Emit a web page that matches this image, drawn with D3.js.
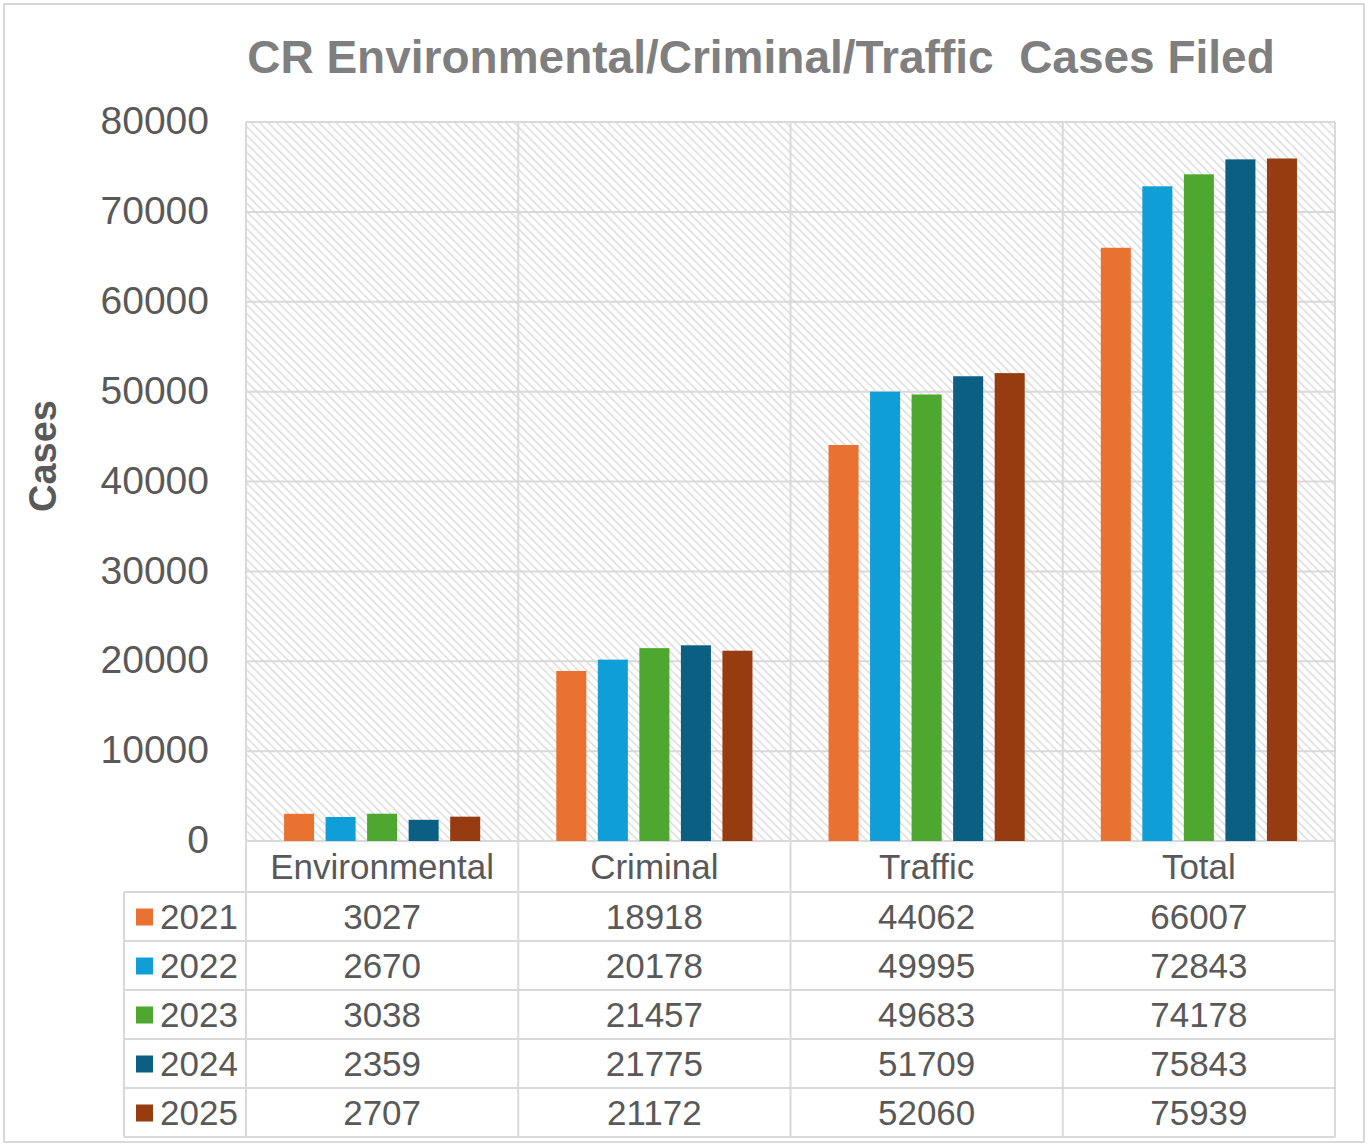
<!DOCTYPE html>
<html>
<head>
<meta charset="utf-8">
<style>
  body { margin: 0; background: #fff; }
  text { font-family: "Liberation Sans", Arial, sans-serif; }
</style>
</head>
<body>
<div id="chart"></div>
<script src="https://d3js.org/d3.v7.min.js"></script>
<script>
// data
const categories = ["Environmental", "Criminal", "Traffic", "Total"];
const years = ["2021", "2022", "2023", "2024", "2025"];
const colors = ["#e97132", "#0f9ed5", "#4ea72e", "#0b5f83", "#963c10"];
const values2021 = [3027, 18918, 44062, 66007];
const values2022 = [2670, 20178, 49995, 72843];
const values2023 = [3038, 21457, 49683, 74178];
const values2024 = [2359, 21775, 51709, 75843];
const values2025 = [2707, 21172, 52060, 75939];
const yTicks = [0, 10000, 20000, 30000, 40000, 50000, 60000, 70000, 80000];

const series = [values2021, values2022, values2023, values2024, values2025];

width = 1368;
height = 1146;
margin = ({top: 122, right: 33, bottom: 305, left: 246});
rowH = 49;
headerH = 51;
legendLeft = 124;
gridColor = "#d9d9d9";
textColor = "#595959";

svg = d3.select("#chart")
  .append("svg")
    .attr("width", width)
    .attr("height", height);

// diagonal hatch for the plot area (downward diagonal)
const defs = svg.append("defs");
const pat = defs.append("pattern")
    .attr("id", "hatch")
    .attr("patternUnits", "userSpaceOnUse")
    .attr("width", 6)
    .attr("height", 6)
    .attr("patternTransform", "rotate(-45)");
pat.append("rect").attr("width", 6).attr("height", 6).attr("fill", "#ffffff");
pat.append("line")
    .attr("x1", 0).attr("y1", 0).attr("x2", 0).attr("y2", 6)
    .attr("stroke", "#dcdcdc").attr("stroke-width", 3);

// outer frame
svg.append("rect")
    .attr("x", 4).attr("y", 4)
    .attr("width", width - 8).attr("height", height - 8)
    .attr("fill", "#fff")
    .attr("stroke", gridColor)
    .attr("stroke-width", 2);

x = d3.scaleBand()
    .domain(categories)
    .range([margin.left, width - margin.right]);

xInner = d3.scaleBand()
    .domain(years)
    .range([0, x.bandwidth()])
    .paddingInner(0.277)
    .paddingOuter(0.916);

plotBottom = height - margin.bottom;
y = d3.scaleLinear()
    .domain([0, 80000])
    .range([plotBottom, margin.top]);

// plot background
svg.append("rect")
    .attr("x", margin.left).attr("y", margin.top)
    .attr("width", x.range()[1] - margin.left)
    .attr("height", plotBottom - margin.top)
    .attr("fill", "url(#hatch)");

// horizontal gridlines
svg.append("g")
  .selectAll("line")
  .data(yTicks)
  .join("line")
    .attr("x1", margin.left).attr("x2", x.range()[1])
    .attr("y1", d => y(d)).attr("y2", d => y(d))
    .attr("stroke", gridColor)
    .attr("stroke-width", 2);

// vertical gridlines through plot and table
const vx = categories.map(c => x(c)).concat([x.range()[1]]);
svg.append("g")
  .selectAll("line")
  .data(vx)
  .join("line")
    .attr("x1", d => d).attr("x2", d => d)
    .attr("y1", margin.top).attr("y2", plotBottom + headerH + rowH * years.length)
    .attr("stroke", gridColor)
    .attr("stroke-width", 2);

// y axis labels
svg.append("g")
    .attr("transform", `translate(209,0)`)
    .call(d3.axisLeft(y).tickValues(yTicks).tickSize(0).tickPadding(0).tickFormat(d3.format("d")))
    .call(g => g.select(".domain").remove())
    .call(g => g.selectAll("text")
        .attr("fill", textColor)
        .attr("font-size", 39)
        .attr("dy", "0.3em")
        .attr("font-family", "'Liberation Sans', Arial, sans-serif"));

// axis title
svg.append("text")
    .attr("transform", `translate(56,456) rotate(-90)`)
    .attr("text-anchor", "middle")
    .attr("fill", textColor)
    .attr("font-size", 38)
    .attr("font-weight", "bold")
    .text("Cases");

// title
svg.append("text")
    .attr("x", 761).attr("y", 73)
    .attr("text-anchor", "middle")
    .attr("fill", "#7f7f7f")
    .attr("font-size", 46)
    .attr("font-weight", "bold")
    .attr("xml:space", "preserve")
    .text("CR Environmental/Criminal/Traffic  Cases Filed");

// bars
svg.append("g")
  .selectAll("g")
  .data(years)
  .join("g")
    .attr("fill", (d, i) => colors[i])
  .selectAll("rect")
  .data((d, i) => categories.map((c, j) => ({c, yr: d, v: series[i][j]})))
  .join("rect")
    .attr("x", d => x(d.c) + xInner(d.yr))
    .attr("y", d => y(d.v))
    .attr("width", xInner.bandwidth())
    .attr("height", d => y(0) - y(d.v));

// data table
const tableTop = plotBottom + headerH;
const tableRight = x.range()[1];
const hLines = d3.range(years.length + 1).map(i => tableTop + i * rowH);

svg.append("g")
  .selectAll("line")
  .data(hLines)
  .join("line")
    .attr("x1", legendLeft).attr("x2", tableRight)
    .attr("y1", d => d).attr("y2", d => d)
    .attr("stroke", gridColor)
    .attr("stroke-width", 2);

svg.append("line")
    .attr("x1", legendLeft).attr("x2", legendLeft)
    .attr("y1", tableTop).attr("y2", tableTop + rowH * years.length)
    .attr("stroke", gridColor)
    .attr("stroke-width", 2);

// category headers
svg.append("g")
  .selectAll("text")
  .data(categories)
  .join("text")
    .attr("x", d => x(d) + x.bandwidth() / 2)
    .attr("y", plotBottom + headerH / 2 + 12)
    .attr("text-anchor", "middle")
    .attr("fill", textColor)
    .attr("font-size", 35)
    .text(d => d);

// rows
const rows = svg.append("g")
  .selectAll("g")
  .data(years)
  .join("g")
    .attr("transform", (d, i) => `translate(0,${tableTop + i * rowH})`);

rows.append("rect")
    .attr("x", 136).attr("y", rowH / 2 - 8)
    .attr("width", 17).attr("height", 17)
    .attr("fill", (d, i) => colors[i]);

rows.append("text")
    .attr("x", 160).attr("y", rowH / 2 + 12)
    .attr("fill", textColor)
    .attr("font-size", 35)
    .text(d => d);

rows.selectAll("text.val")
  .data((d, i) => categories.map((c, j) => ({c, v: series[i][j]})))
  .join("text")
    .attr("class", "val")
    .attr("x", d => x(d.c) + x.bandwidth() / 2)
    .attr("y", rowH / 2 + 12)
    .attr("text-anchor", "middle")
    .attr("fill", textColor)
    .attr("font-size", 35)
    .text(d => d.v);
</script>
</body>
</html>
